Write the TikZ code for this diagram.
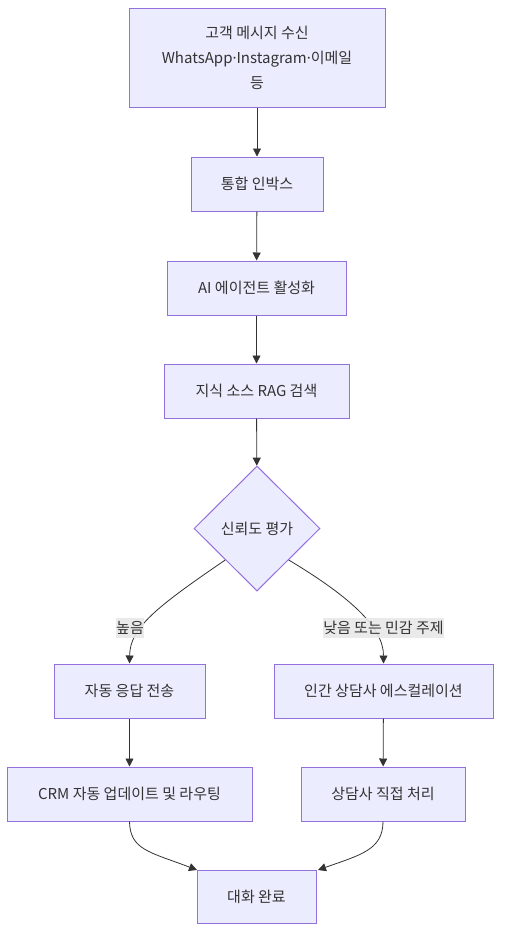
\documentclass[tikz,border=0pt]{standalone}
\usepackage{fontspec}
\setmainfont{Noto Sans CJK KR}
\newfontfamily\latinfont{Noto Sans}
\usetikzlibrary{arrows.meta,shapes.geometric}
\definecolor{boxfill}{HTML}{ECECFF}
\definecolor{boxline}{HTML}{9370DB}
\definecolor{edge}{HTML}{333333}
\definecolor{lblbg}{HTML}{E8E8E8}
\newcommand{\mdot}{{\latinfont ·}}
\tikzset{
  box/.style={draw=boxline, fill=boxfill, line width=1pt, inner sep=0pt, text=edge,
    font=\fontsize{15}{25}\selectfont, align=center},
  dec/.style={draw=boxline, fill=boxfill, line width=1pt, diamond, inner sep=0pt,
    minimum width=126pt, minimum height=125pt, aspect=1, text=edge, font=\fontsize{15}{18}\selectfont},
  conn/.style={draw=edge, line width=0.8pt, -{Triangle[length=8pt,width=8pt]}},
  lbl/.style={fill=lblbg, fill opacity=0.9, text opacity=1, text=edge, inner xsep=0pt, inner ysep=3.5pt,
    font=\fontsize{15}{18}\selectfont}
}
\begin{document}
\begin{tikzpicture}[x=1pt,y=-1pt]
\useasboundingbox (0,0) rectangle (509,945);
\node[box, minimum width=256pt, minimum height=99pt] (a) at (257,57.5) {고객 메시지 수신\\WhatsApp\mdot Instagram\mdot 이메일\\등};
\node[box, minimum width=132pt, minimum height=54pt] (b) at (257,184) {통합 인박스};
\node[box, minimum width=179pt, minimum height=54pt] (c) at (256.5,288) {AI 에이전트 활성화};
\node[box, minimum width=185pt, minimum height=54pt] (d) at (256.5,391) {지식 소스 RAG 검색};
\node[dec] (e) at (257,528.5) {신뢰도 평가};
\node[box, minimum width=151pt, minimum height=54pt] (f) at (129.5,691) {자동 응답 전송};
\node[box, minimum width=219pt, minimum height=54pt] (g) at (383.5,691) {인간 상담사 에스컬레이션};
\node[box, minimum width=245pt, minimum height=54pt] (h) at (129.5,794) {CRM 자동 업데이트 및 라우팅};
\node[box, minimum width=164pt, minimum height=54pt] (i) at (383,794) {상담사 직접 처리};
\node[box, minimum width=119pt, minimum height=53pt] (j) at (256.5,896.5) {대화 완료};

\coordinate (jl) at (197,870);
\coordinate (jr) at (318,870);

\draw[conn] (a) -- (b);
\draw[conn] (b) -- (c);
\draw[conn] (c) -- (d);
\draw[conn] (d) -- (e);
\draw[conn] (e.south west) .. controls (155,608) and (130,628) .. (f.north);
\draw[conn] (e.south east) .. controls (352,598) and (383.5,628) .. (g.north);
\draw[conn] (f) -- (h);
\draw[conn] (g) -- (i);
\draw[conn] (h.south) .. controls (130,850) and (150,852) .. (jl);
\draw[conn] (i.south) .. controls (383,850) and (360,855) .. (jr);

\node[lbl] (l1) at (130,628) {높음};
\node[lbl] (l2) at (383.5,628) {낮음 또는 민감 주제};
\end{tikzpicture}
\end{document}
